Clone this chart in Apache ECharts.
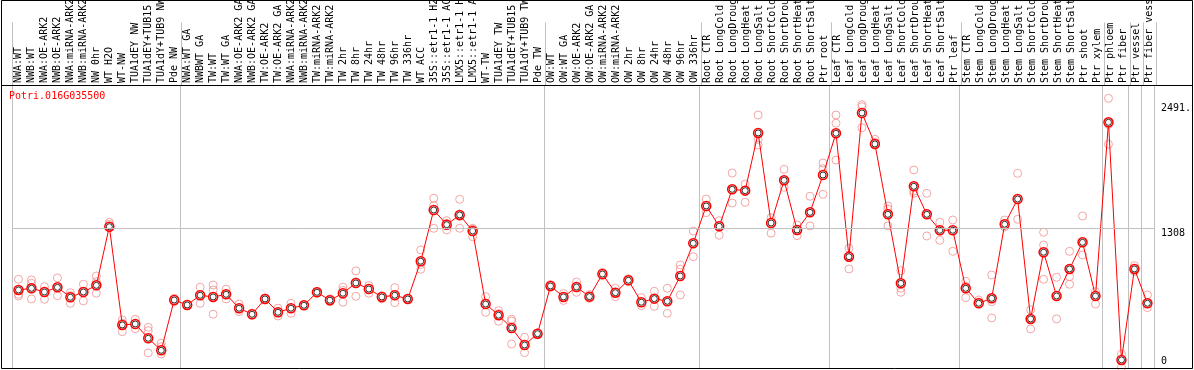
<!DOCTYPE html>
<html>
<head>
<meta charset="utf-8">
<script src="https://cdn.jsdelivr.net/npm/echarts@6/dist/echarts.min.js"></script>
<style>
html,body{margin:0;padding:0;background:#fff;}
#chart{width:1194px;height:370px;}
</style>
</head>
<body>
<div id="chart"></div>
<script>
const geneId = 'Potri.016G035500';
const categories = [
 'NWA:WT','NWB:WT','NWA:OE-ARK2','NWB:OE-ARK2','NWA:miRNA-ARK2','NWB:miRNA-ARK2','NW 0hr','WT H2O','WT-NW','TUA1dEY NW','TUA1dEY+TUB15 NW','TUA1dY+TUB9 NW','Pde NW',
 'NWA:WT GA','NWBWT GA','TW:WT','TW:WT GA','NWA:OE-ARK2 GA','NWB:OE-ARK2 GA','TW:OE-ARK2','TW:OE-ARK2 GA','NWA:miRNA-ARK2','NWB:miRNA-ARK2','TW:miRNA-ARK2','TW:miRNA-ARK2',
 'TW 2hr','TW 8hr','TW 24hr','TW 48hr','TW 96hr','TW 336hr','WT ACC','35S::etr1-1 H2O','35S::etr1-1 ACC','LMX5::etr1-1 H2O','LMX5::etr1-1 ACC','WT-TW','TUA1dEY TW','TUA1dEY+TUB15 TW','TUA1dY+TUB9 TW','Pde TW',
 'OW:WT','OW:WT GA','OW:OE-ARK2','OW:OE-ARK2 GA','OW:miRNA-ARK2','OW:miRNA-ARK2','OW 2hr','OW 8hr','OW 24hr','OW 48hr','OW 96hr','OW 336hr',
 'Root CTR','Root LongCold','Root LongDrought','Root LongHeat','Root LongSalt','Root ShortCold','Root ShortDrought','Root ShortHeat','Root ShortSalt','Ptr root',
 'Leaf CTR','Leaf LongCold','Leaf LongDrought','Leaf LongHeat','Leaf LongSalt','Leaf ShortCold','Leaf ShortDrought','Leaf ShortHeat','Leaf ShortSalt','Ptr leaf',
 'Stem CTR','Stem LongCold','Stem LongDrought','Stem LongHeat','Stem LongSalt','Stem ShortCold','Stem ShortDrought','Stem ShortHeat','Stem ShortSalt','Ptr shoot','Ptr xylem',
 'Ptr phloem','Ptr fiber','Ptr vessel','Ptr fiber vessel'
];
const meanValues = [
 724,740,705,749,655,705,768,1323,393,402,267,153,629,
 582,674,658,683,551,494,639,513,551,579,702,627,
 693,790,733,658,674,639,996,1481,1342,1434,1282,591,485,364,203,310,
 762,658,752,661,875,698,816,608,642,617,856,1166,
 1519,1327,1677,1664,2210,1358,1762,1292,1459,1812,
 2207,1039,2399,2106,1440,787,1705,1440,1289,1289,
 740,598,645,1346,1585,450,1081,667,923,1175,667,
 2311,62,923,598
];
const rep1 = [
 825,819,755,838,698,778,856,1364,440,447,371,220,645,
 590,750,771,731,591,505,650,551,598,585,710,640,
 750,904,765,640,746,645,1103,1592,1380,1582,1308,661,528,447,276,318,
 775,690,800,680,890,740,830,651,712,740,961,1282,
 1585,1380,1831,1727,2380,1408,1866,1339,1611,1926,
 2380,1119,2478,2150,1519,907,1860,1639,1365,1386,
 806,629,866,1386,1828,535,1270,844,1090,1424,708,
 2538,118,954,677
];
const rep2 = [
 683,787,636,670,598,620,803,1346,329,358,339,187,612,
 575,598,724,639,519,485,630,478,503,575,695,615,
 608,664,693,670,604,633,920,1522,1292,1308,1228,513,428,213,131,300,
 750,625,702,645,860,661,805,576,570,503,677,1039,
 1456,1242,1547,1554,2096,1261,1696,1238,1330,1872,
 2302,923,2459,2120,1490,740,1639,1235,1194,1090,
 651,610,613,1320,1393,355,1150,450,850,1055,591,
 2103,-8,900,557
];
const rep3 = [
 667,639,705,749,670,705,693,1323,410,400,128,118,629,
 582,674,494,683,545,494,639,513,551,579,702,627,
 720,800,740,658,674,639,965,1308,1355,1420,1300,600,500,430,200,305,
 762,658,752,661,875,698,816,608,642,617,920,1166,
 1519,1327,1677,1664,2150,1358,1762,1292,1459,1630,
 1954,1039,2260,2106,1330,702,1660,1440,1289,1289,
 760,598,459,1346,1585,450,825,667,778,1175,667,
 2290,62,923,598
];
const groupStarts = [0,13,41,53,63,73,84,86,87];
const yTickValues = [0,1308,2491];
const yTickLabels = ['0','1308','2491.'];

const FONT = '"DejaVu Sans Mono", "Liberation Mono", monospace';
const GL = 12, GW = 88 * 13;
const splitLineCfg = {
  show: true,
  interval: function (index) { return groupStarts.indexOf(index) >= 0; },
  lineStyle: { color: '#c0c0c0', width: 1 }
};
function reps(arr) { return arr.map((v, i) => [i, v]).filter(p => p[1] !== null); }
function yLabel(v) { const k = yTickValues.indexOf(v); return k >= 0 ? yTickLabels[k] : ''; }

const chart = echarts.init(document.getElementById('chart'), null, { renderer: 'canvas' });
chart.setOption({
  animation: false,
  backgroundColor: '#fff',
  title: {
    text: geneId, left: 9, top: 91, padding: 0,
    textStyle: { color: '#ff0000', fontFamily: FONT, fontSize: 10, fontWeight: 'normal' }
  },
  grid: [
    { left: GL, width: GW, top: 0, height: 85 },
    { left: GL, width: GW, top: 85, height: 284 }
  ],
  xAxis: [
    {
      type: 'category', gridIndex: 0, data: categories, position: 'bottom', boundaryGap: true,
      axisLine: { show: false }, axisTick: { show: false },
      axisLabel: { inside: true, rotate: 90, margin: 2, interval: 0, color: '#000', fontFamily: FONT, fontSize: 10 },
      splitLine: splitLineCfg
    },
    {
      type: 'category', gridIndex: 1, data: categories, boundaryGap: true,
      axisLine: { show: false }, axisTick: { show: false }, axisLabel: { show: false },
      splitLine: splitLineCfg
    }
  ],
  yAxis: [
    { type: 'value', gridIndex: 0, show: false, min: 0, max: 1 },
    {
      type: 'value', gridIndex: 1, position: 'right', min: -24, max: 2664,
      axisLine: { show: false }, axisTick: { show: false }, splitLine: { show: false },
      axisLabel: { customValues: [1308, 2491], verticalAlign: 'top', margin: 7, color: '#000', fontFamily: FONT, fontSize: 10, formatter: yLabel }
    },
    {
      type: 'value', gridIndex: 1, position: 'right', min: -24, max: 2664,
      axisLine: { show: false }, axisTick: { show: false }, splitLine: { show: false },
      axisLabel: { customValues: [0], verticalAlign: 'bottom', margin: 7, color: '#000', fontFamily: FONT, fontSize: 10, formatter: yLabel }
    }
  ],
  series: [
    {
      type: 'line', xAxisIndex: 1, yAxisIndex: 1, data: [], silent: true,
      markLine: { silent: true, symbol: 'none', label: { show: false },
        lineStyle: { color: '#c0c0c0', width: 1, type: 'solid' },
        data: [{ yAxis: yTickValues[1] }] }
    },
    { type: 'scatter', xAxisIndex: 1, yAxisIndex: 1, data: reps(rep1), symbol: 'circle', symbolSize: 8,
      itemStyle: { color: 'rgba(0,0,0,0)', borderColor: '#f09090', borderWidth: 1 }, z: 2 },
    { type: 'scatter', xAxisIndex: 1, yAxisIndex: 1, data: reps(rep2), symbol: 'circle', symbolSize: 8,
      itemStyle: { color: 'rgba(0,0,0,0)', borderColor: '#f09090', borderWidth: 1 }, z: 2 },
    { type: 'scatter', xAxisIndex: 1, yAxisIndex: 1, data: reps(rep3), symbol: 'circle', symbolSize: 8,
      itemStyle: { color: 'rgba(0,0,0,0)', borderColor: '#f09090', borderWidth: 1 }, z: 2 },
    { type: 'line', xAxisIndex: 1, yAxisIndex: 1, data: meanValues, symbol: 'circle', symbolSize: 9, showAllSymbol: true,
      lineStyle: { color: '#ff0000', width: 1 },
      itemStyle: { color: '#ffffff', borderColor: '#ff0000', borderWidth: 1.5 }, z: 3 },
    { type: 'scatter', xAxisIndex: 1, yAxisIndex: 1, data: meanValues.map((v, i) => [i, v]), symbol: 'circle', symbolSize: 6,
      itemStyle: { color: 'rgba(0,0,0,0)', borderColor: '#000', borderWidth: 1 }, z: 4 }
  ],
  graphic: [
    { type: 'rect', shape: { x: 1.5, y: 0.5, width: 1191, height: 368 }, style: { fill: null, stroke: '#000', lineWidth: 1 }, z: 100 },
    { type: 'line', shape: { x1: 1, y1: 85.5, x2: 1193, y2: 85.5 }, style: { stroke: '#000', lineWidth: 1 }, z: 100 }
  ]
});
</script>
</body>
</html>
